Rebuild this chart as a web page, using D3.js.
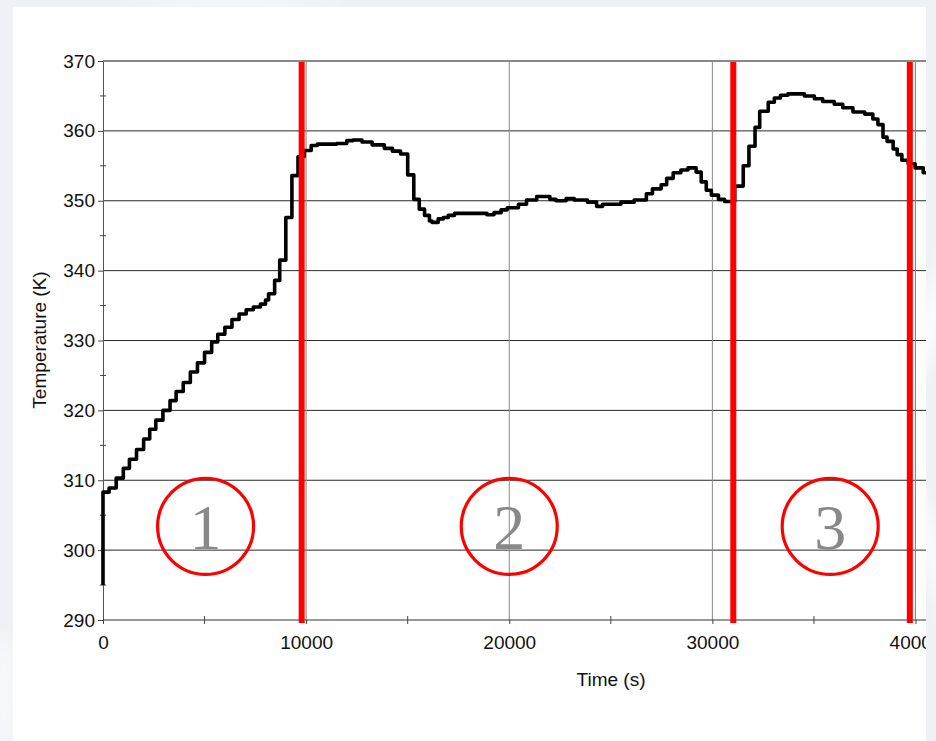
<!DOCTYPE html>
<html>
<head>
<meta charset="utf-8">
<script src="https://cdn.jsdelivr.net/npm/d3@7"></script>
<style>
  html, body { margin: 0; padding: 0; background: #eef1f5; }
  svg { display: block; }
</style>
</head>
<body>
<svg id="chart" width="936" height="741"></svg>
<script>
// Temperature history: step samples (time in s, temperature in K)
const times = [0, 0, 300, 650, 1000, 1300, 1650, 2000, 2300, 2600, 2950, 3300, 3600, 3950, 4300, 4650,
  5000, 5350, 5650, 6000, 6350, 6700, 7050, 7400, 7750, 8000, 8150, 8450, 8700, 9000, 9300, 9600,
  9900, 10250, 10550, 11500, 12000, 12300, 12750, 13250, 13850, 14250, 14650, 15000, 15300, 15570,
  15830, 16070, 16200, 16500, 16750, 17000, 17300, 18900, 19250, 19600, 19900, 20450, 20850, 21350,
  22000, 22300, 22800, 23200, 23850, 24300, 24600, 25500, 26150, 26750, 27050, 27480, 27750, 28070,
  28450, 28800, 29200, 29450, 29700, 29950, 30300, 30600, 31100, 31520, 31800, 32100, 32330, 32750,
  33050, 33350, 33720, 34530, 35020, 35430, 36000, 36420, 36920, 37500, 37900, 38150, 38400, 38600,
  38900, 39100, 39330, 39640, 39980, 40380, 40700];
const temps = [295.0, 308.3, 308.9, 310.3, 311.7, 313.0, 314.4, 315.9, 317.3, 318.6, 320.0, 321.4, 322.7, 324.0, 325.5, 326.8,
  328.3, 329.8, 330.9, 331.9, 333.0, 333.8, 334.4, 334.8, 335.2, 335.8, 336.7, 338.6, 341.5, 347.6, 353.6, 356.3,
  357.2, 357.9, 358.1, 358.2, 358.6, 358.7, 358.4, 358.0, 357.5, 357.1, 356.7, 353.7, 350.2, 348.8,
  347.9, 347.1, 346.9, 347.4, 347.6, 347.9, 348.2, 348.0, 348.3, 348.7, 349.0, 349.5, 350.1, 350.6,
  350.2, 350.0, 350.3, 350.1, 349.8, 349.2, 349.5, 349.8, 350.1, 351.0, 351.7, 352.3, 353.2, 354.0,
  354.4, 354.7, 354.1, 352.7, 351.5, 350.8, 350.2, 349.9, 352.1, 355.0, 357.8, 360.5, 362.8, 364.1,
  364.7, 365.1, 365.3, 365.0, 364.6, 364.2, 363.8, 363.3, 362.7, 362.4, 361.7, 360.9, 359.1, 358.5,
  357.4, 356.6, 355.8, 355.3, 354.7, 354.0, 354.0];

// Phase boundaries (s) and phase markers
const phaseBounds = [9780, 31030, 39720];
const phaseLabels = ["1", "2", "3"];
const phaseTimes = [5050, 20000, 35800];
const phaseTemps = [303.4, 303.4, 303.4];

// Axis ticks
const yTicks = [290, 300, 310, 320, 330, 340, 350, 360, 370];
const yMinor = [295, 305, 315, 325, 335, 345, 355, 365];
const xTicks = [0, 10000, 20000, 30000, 40000];
const xMinor = [5000, 15000, 25000, 35000];

(function draw() {
  const svg = d3.select("#chart");
  const W = 936, H = 741;
  const pLeft = 103, pRight = 926, pTop = 61, pBottom = 620;
  const sans = "'Liberation Sans', Arial, Helvetica, sans-serif";
  const serif = "'Liberation Serif', 'Times New Roman', serif";

  const x = d3.scaleLinear().domain([0, 40000]).range([pLeft, 915.5]);
  const y = d3.scaleLinear().domain([290, 370]).range([pBottom, pTop]);

  // page backdrop
  const defs = svg.append("defs");
  defs.append("filter").attr("id", "soft").attr("x", "-50%").attr("y", "-50%").attr("width", "200%").attr("height", "200%")
    .append("feGaussianBlur").attr("stdDeviation", 8);
  defs.append("clipPath").attr("id", "plotClip")
    .append("rect").attr("x", pLeft - 4).attr("y", pTop - 6).attr("width", pRight - pLeft + 4).attr("height", pBottom - pTop + 12);
  defs.append("clipPath").attr("id", "cardClip")
    .append("rect").attr("x", 13).attr("y", 7).attr("width", pRight - 13).attr("height", H - 7);

  svg.append("rect").attr("width", W).attr("height", H).attr("fill", "#eef1f5");
  const swirl = svg.append("g").attr("filter", "url(#soft)").attr("fill", "#ffffff").attr("opacity", 0.75);
  swirl.append("ellipse").attr("cx", 940).attr("cy", 300).attr("rx", 14).attr("ry", 120).attr("transform", "rotate(20 940 300)");
  swirl.append("ellipse").attr("cx", 935).attr("cy", 560).attr("rx", 10).attr("ry", 90).attr("transform", "rotate(-15 935 560)");
  swirl.append("ellipse").attr("cx", 4).attr("cy", 690).attr("rx", 8).attr("ry", 60);
  swirl.append("ellipse").attr("cx", 230).attr("cy", 2).attr("rx", 120).attr("ry", 4);

  const card = svg.append("g").attr("clip-path", "url(#cardClip)");
  card.append("rect").attr("x", 13).attr("y", 7).attr("width", pRight - 13).attr("height", H - 7).attr("fill", "#ffffff");

  // horizontal grid
  card.append("g").selectAll("line").data(yTicks.slice(1)).join("line")
    .attr("x1", pLeft).attr("x2", pRight)
    .attr("y1", d => y(d)).attr("y2", d => y(d))
    .attr("stroke", d => d === 370 ? "#111" : "#2a2a2a").attr("stroke-width", 1);

  // vertical grid
  card.append("g").selectAll("line").data(xTicks.slice(1)).join("line")
    .attr("x1", d => x(d)).attr("x2", d => x(d))
    .attr("y1", pTop).attr("y2", pBottom)
    .attr("stroke", "#8a8a8a").attr("stroke-width", 1);

  // y axis
  const yAxis = card.append("g").attr("transform", `translate(${pLeft},0)`)
    .call(d3.axisLeft(y).tickValues(yTicks).tickSizeInner(5).tickSizeOuter(0).tickPadding(3).tickFormat(d3.format("d")));
  yAxis.select(".domain").attr("stroke", "#555");
  yAxis.selectAll(".tick line").attr("stroke", "#444");
  yAxis.selectAll(".tick text").style("font-size", "19px").style("font-family", sans).attr("fill", "#111");
  card.append("g").selectAll("line").data(yMinor).join("line")
    .attr("x1", pLeft - 3).attr("x2", pLeft + 3)
    .attr("y1", d => y(d)).attr("y2", d => y(d))
    .attr("stroke", "#444");

  // x axis
  const xAxis = card.append("g").attr("transform", `translate(0,${pBottom})`)
    .call(d3.axisBottom(x).tickValues(xTicks).tickSizeInner(4).tickSizeOuter(0).tickPadding(12).tickFormat(d3.format("d")));
  xAxis.select(".domain").remove();
  xAxis.selectAll(".tick line").attr("stroke", "#444");
  xAxis.selectAll(".tick text").style("font-size", "19px").style("font-family", sans).attr("fill", "#111");
  card.append("line").attr("x1", pLeft).attr("x2", pRight).attr("y1", pBottom).attr("y2", pBottom).attr("stroke", "#333");
  card.append("g").selectAll("line").data(xMinor).join("line")
    .attr("x1", d => x(d)).attr("x2", d => x(d))
    .attr("y1", pBottom - 4).attr("y2", pBottom + 4)
    .attr("stroke", "#444");

  // axis titles
  card.append("text").attr("x", 611).attr("y", 686).attr("text-anchor", "middle")
    .style("font-size", "19px").style("font-family", sans).attr("fill", "#111").text("Time (s)");
  card.append("text").attr("transform", "translate(46,340) rotate(-90)").attr("text-anchor", "middle")
    .style("font-size", "19px").style("font-family", sans).attr("fill", "#111").text("Temperature (K)");

  // phase markers
  const markers = card.append("g");
  phaseLabels.forEach((lab, i) => {
    const cx = x(phaseTimes[i]), cy = y(phaseTemps[i]);
    markers.append("circle").attr("cx", cx).attr("cy", cy).attr("r", 48)
      .attr("fill", "none").attr("stroke", "#ff0000").attr("stroke-width", 3.2);
    markers.append("text").attr("x", cx).attr("y", cy + 23).attr("text-anchor", "middle")
      .style("font-family", serif).style("font-size", "64px").attr("fill", "#888888").text(lab);
  });

  // temperature trace
  const series = times.map((t, i) => ({ t, v: temps[i] }));
  const line = d3.line().x(d => x(d.t)).y(d => y(d.v)).curve(d3.curveStepAfter);
  card.append("g").attr("clip-path", "url(#plotClip)")
    .append("path").datum(series).attr("d", line)
    .attr("fill", "none").attr("stroke", "#000").attr("stroke-width", 3.6)
    .attr("stroke-linejoin", "round");

  // phase boundaries
  card.append("g").selectAll("line").data(phaseBounds).join("line")
    .attr("x1", d => x(d)).attr("x2", d => x(d))
    .attr("y1", pTop + 1).attr("y2", pBottom + 3)
    .attr("stroke", "#ff0000").attr("stroke-width", 6);
})();
</script>
</body>
</html>
